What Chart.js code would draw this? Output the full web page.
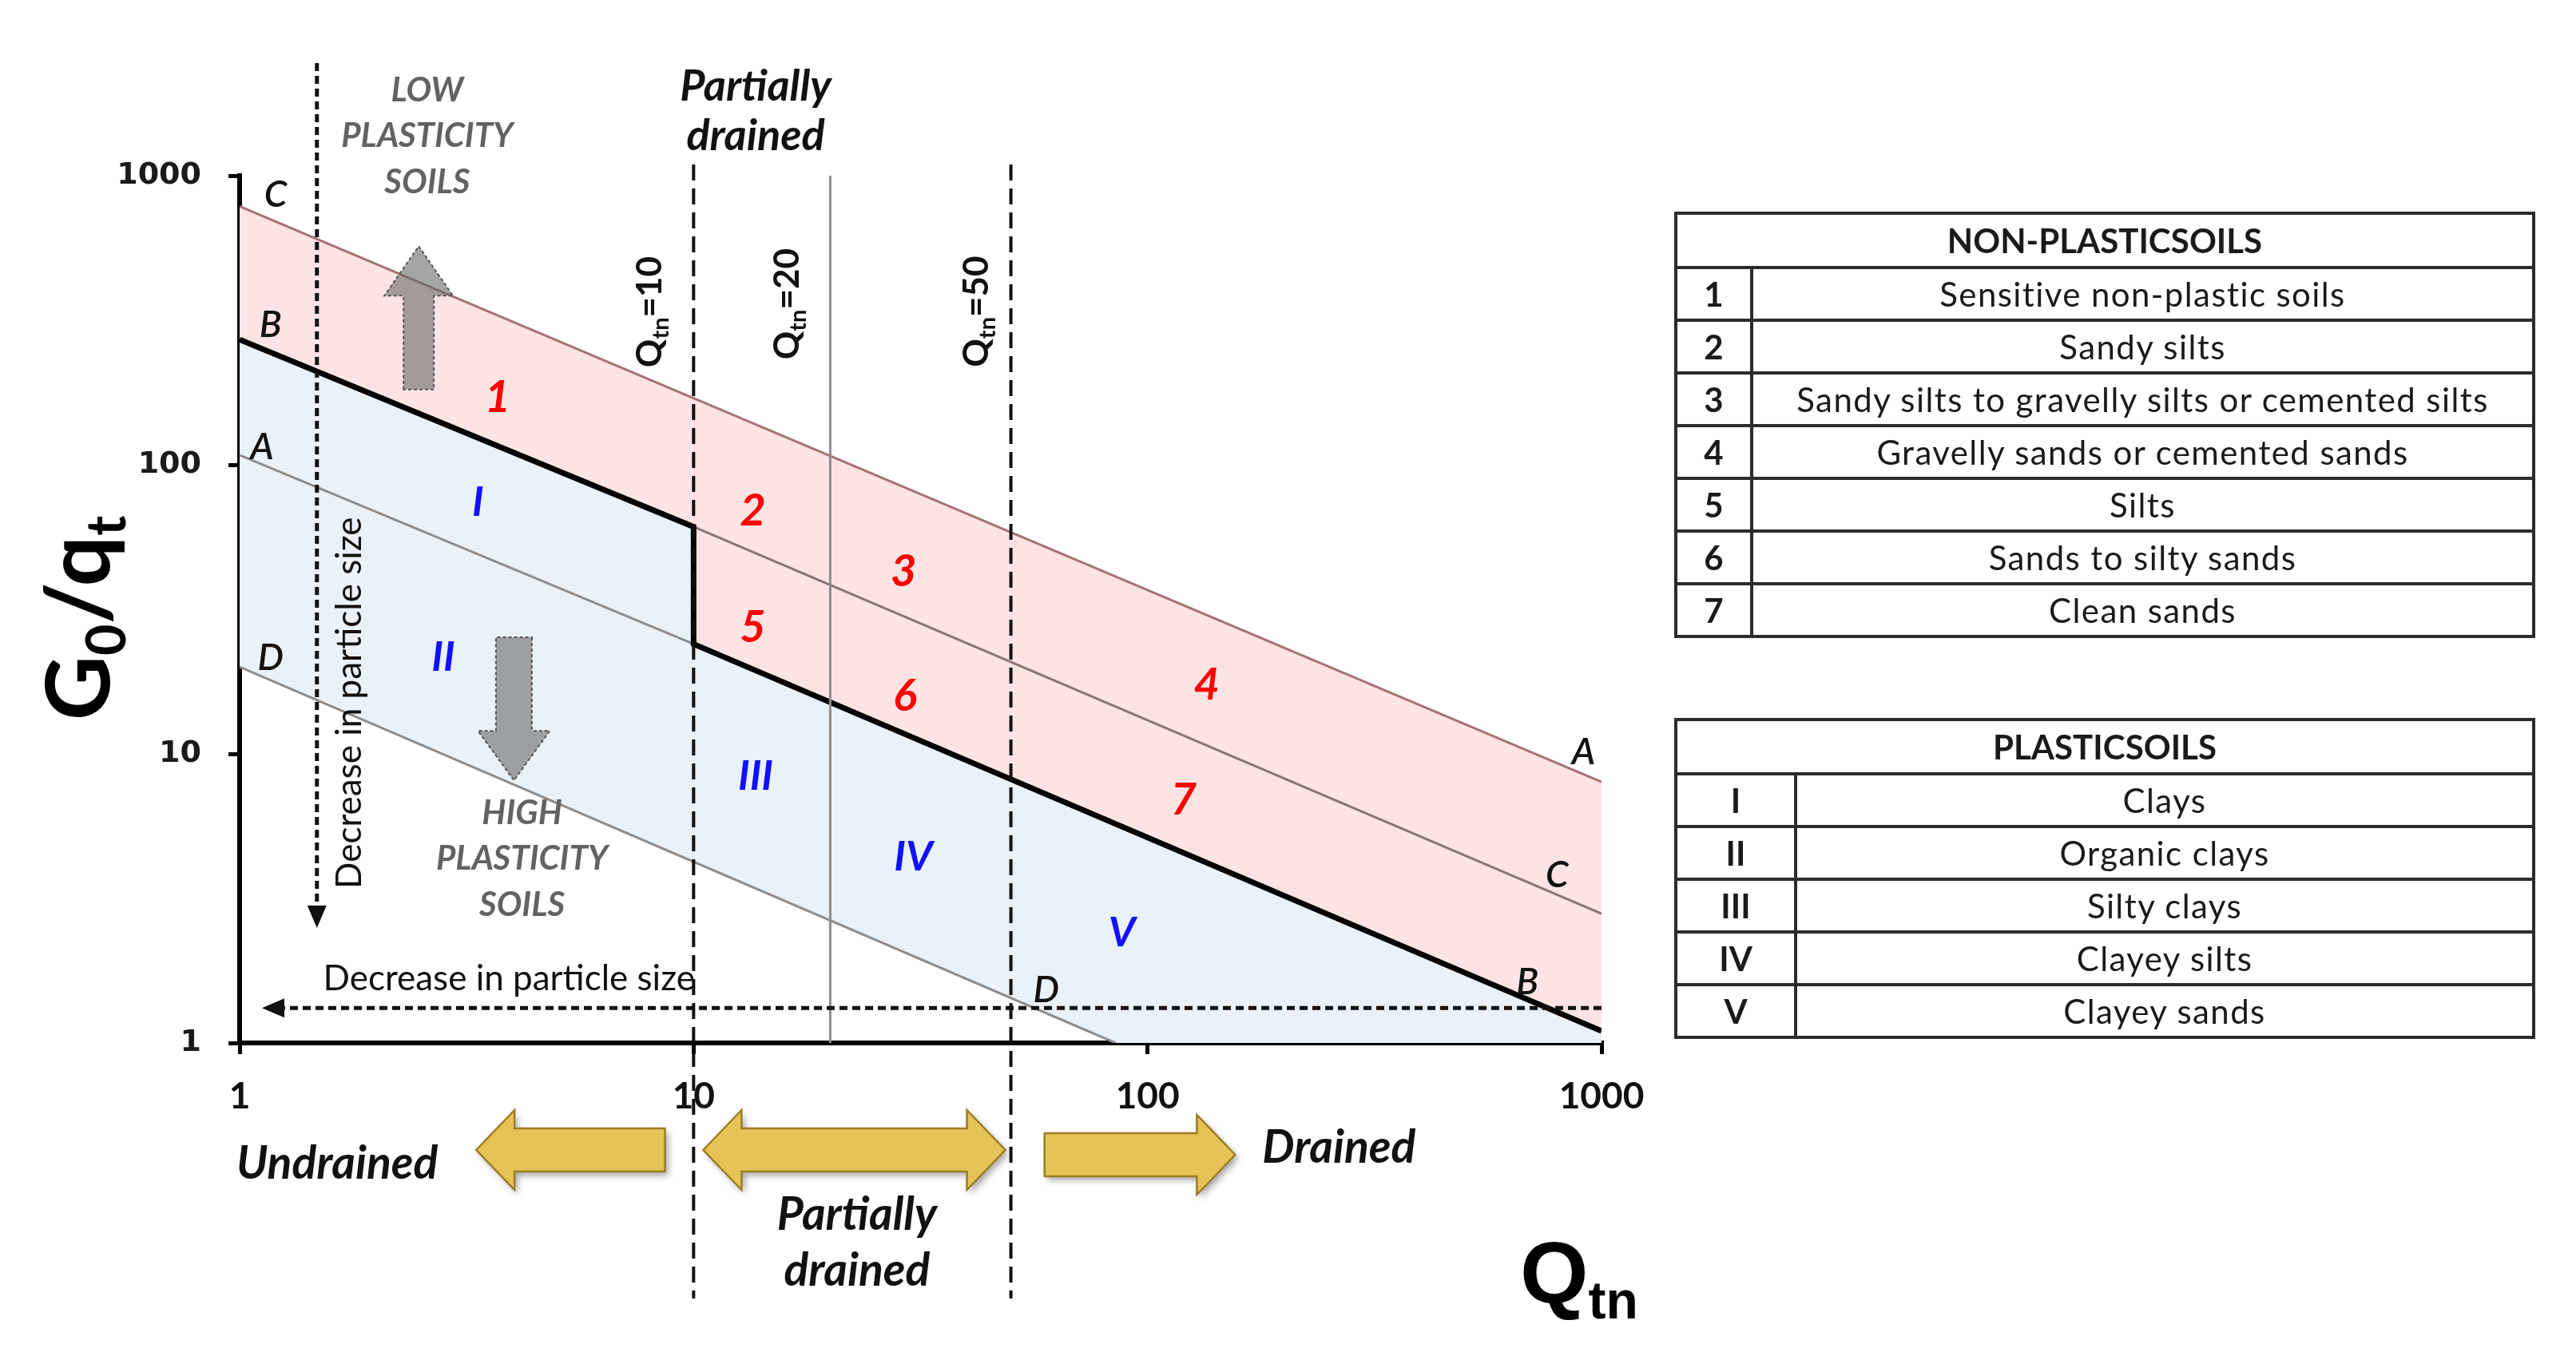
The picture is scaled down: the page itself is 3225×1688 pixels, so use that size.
<!DOCTYPE html>
<html>
<head>
<meta charset="utf-8">
<title>G0/qt vs Qtn</title>
<script src="https://cdn.jsdelivr.net/npm/chart.js@4.4.1/dist/chart.umd.min.js"></script>
<style>
  body { margin: 0; background: #fff; width: 3225px; height: 1688px; overflow: hidden; position: relative; }
  #chart { position: absolute; left: 0; top: 0; width: 3225px; height: 1688px; }
  table.soils { position: absolute; left: 2096px; width: 1078px; border-collapse: collapse; table-layout: fixed;
    font-family: Lato, 'Open Sans', sans-serif; font-size: 42px; color: #1a1a1a; }
  table.soils th, table.soils td { border: 4px solid #2b2b2b; text-align: center; padding: 0; }
  table.soils td { letter-spacing: 1.4px; }
  table.soils th { font-weight: bold; word-spacing: -10px; }
  table.soils td.num { font-weight: bold; letter-spacing: 0; }
</style>
</head>
<body>
<canvas id="chart" width="3225" height="1688"></canvas>
<table class="soils" id="nonPlastic" style="top:265px"></table>
<table class="soils" id="plastic" style="top:899px"></table>
<script>
// axes
const qtnTicks = [1, 10, 100, 1000];
const g0Ticks = [1, 10, 100, 1000];

// boundary lines as [Qtn, G0/qt]
const lineCA = [[1, 784], [1000, 8.0]];                      // upper limit (C left, A right)
const thickBoundary = [[1, 271], [10, 61], [10, 24], [1000, 1.1]]; // B line with the step at Qtn = 10
const lineMid = [[10, 61], [1000, 2.8]];                     // C at right
const lineA = [[1, 108], [10, 24]];                          // A at left
const lineD = [[1, 20], [85, 1]];
const qtnLimits = [10, 20, 50];

// zones
const pinkZone = lineCA.concat(thickBoundary.slice().reverse());
const blueZone = thickBoundary.concat([[1000, 1]], lineD.slice().reverse());

// labels inside the plot: [text, Qtn, G0/qt]
const zoneNumbers = [['1', 3.7, 171], ['2', 13.5, 69.3], ['3', 29, 42.7], ['4', 135, 17.3],
                     ['5', 13.5, 27.4], ['6', 29.2, 15.8], ['7', 120, 6.93]];
const zoneRomans = [['I', 3.35, 74], ['II', 2.81, 21.6], ['III', 13.7, 8.33], ['IV', 30.5, 4.39], ['V', 87.8, 2.4]];
const lineLetters = [['C', 1.2, 855], ['B', 1.17, 304], ['A', 1.12, 115], ['D', 1.17, 21.4],
                     ['A', 913, 10.1], ['C', 798, 3.8], ['B', 687, 1.62], ['D', 59.8, 1.52]];

// tables
const nonPlasticIds = ['1', '2', '3', '4', '5', '6', '7'];
const nonPlasticNames = ['Sensitive non-plastic soils', 'Sandy silts', 'Sandy silts to gravelly silts or cemented silts',
  'Gravelly sands or cemented sands', 'Silts', 'Sands to silty sands', 'Clean sands'];
const plasticIds = ['I', 'II', 'III', 'IV', 'V'];
const plasticNames = ['Clays', 'Organic clays', 'Silty clays', 'Clayey silts', 'Clayey sands'];

function buildTable(id, title, ids, names, firstCol) {
  const t = document.getElementById(id);
  let html = '<colgroup><col style="width:' + firstCol + 'px"><col></colgroup>';
  html += '<tr style="height:68px"><th colspan="2">' + title + '</th></tr>';
  for (let i = 0; i < ids.length; i++) {
    html += '<tr style="height:66px"><td class="num">' + ids[i] + '</td><td>' + names[i] + '</td></tr>';
  }
  t.innerHTML = html;
}
buildTable('nonPlastic', 'NON-PLASTIC SOILS', nonPlasticIds, nonPlasticNames, 95);
buildTable('plastic', 'PLASTIC SOILS', plasticIds, plasticNames, 150);

const pts = arr => arr.map(p => ({ x: p[0], y: p[1] }));

function richText(ctx, parts, x, y, align) {
  let w = 0;
  parts.forEach(p => { ctx.font = p[1]; p.w = ctx.measureText(p[0]).width; w += p.w; });
  let cx = align === 'center' ? x - w / 2 : (align === 'right' ? x - w : x);
  ctx.textAlign = 'left';
  ctx.textBaseline = 'alphabetic';
  parts.forEach(p => { ctx.font = p[1]; ctx.fillText(p[0], cx, y + (p[2] || 0)); cx += p.w; });
}

function dashedArrow(ctx, x0, y0, x1, y1) {
  const ang = Math.atan2(y1 - y0, x1 - x0), hl = 28, hw = 12;
  const ex = x1 - Math.cos(ang) * hl, ey = y1 - Math.sin(ang) * hl;
  ctx.save();
  ctx.strokeStyle = '#111'; ctx.lineWidth = 5; ctx.setLineDash([10, 6]);
  ctx.beginPath(); ctx.moveTo(x0, y0); ctx.lineTo(ex, ey); ctx.stroke();
  ctx.setLineDash([]);
  ctx.fillStyle = '#111';
  ctx.beginPath(); ctx.moveTo(x1, y1);
  ctx.lineTo(ex - Math.sin(ang) * hw, ey + Math.cos(ang) * hw);
  ctx.lineTo(ex + Math.sin(ang) * hw, ey - Math.cos(ang) * hw);
  ctx.closePath(); ctx.fill();
  ctx.restore();
}

function blockArrow(ctx, x0, y0, x1, y1, o) {
  const L = Math.hypot(x1 - x0, y1 - y0), s = o.shaft / 2, h = o.head / 2, hl = o.headLen;
  ctx.save();
  ctx.translate(x0, y0);
  ctx.rotate(Math.atan2(y1 - y0, x1 - x0));
  ctx.beginPath();
  if (o.double) { ctx.moveTo(0, 0); ctx.lineTo(hl, -h); ctx.lineTo(hl, -s); } else { ctx.moveTo(0, -s); }
  ctx.lineTo(L - hl, -s); ctx.lineTo(L - hl, -h); ctx.lineTo(L, 0); ctx.lineTo(L - hl, h); ctx.lineTo(L - hl, s);
  if (o.double) { ctx.lineTo(hl, s); ctx.lineTo(hl, h); } else { ctx.lineTo(0, s); }
  ctx.closePath();
  if (o.shadow) {
    ctx.shadowColor = 'rgba(0,0,0,0.35)'; ctx.shadowBlur = 8; ctx.shadowOffsetX = 4; ctx.shadowOffsetY = 5;
  }
  ctx.fillStyle = o.fill; ctx.fill();
  ctx.shadowColor = 'transparent';
  if (o.dash) ctx.setLineDash(o.dash);
  ctx.strokeStyle = o.stroke; ctx.lineWidth = o.lw; ctx.stroke();
  ctx.restore();
}

const annotate = {
  id: 'annotate',
  afterDraw(chart) {
    const ctx = chart.ctx;
    const X = v => chart.scales.x.getPixelForValue(v);
    const Y = v => chart.scales.y.getPixelForValue(v);
    const area = chart.chartArea;
    ctx.save();

    // Qtn limit lines (10 and 50 dashed, run below the axis)
    qtnLimits.forEach(q => {
      ctx.save();
      ctx.beginPath();
      if (q === 20) {
        ctx.strokeStyle = '#8d8d8d'; ctx.lineWidth = 3;
        ctx.moveTo(X(q), Y(1000)); ctx.lineTo(X(q), area.bottom);
      } else {
        ctx.strokeStyle = '#111'; ctx.lineWidth = 4; ctx.setLineDash([20, 10]);
        ctx.moveTo(X(q), Y(1000) - 14); ctx.lineTo(X(q), area.bottom + 320);
      }
      ctx.stroke();
      ctx.restore();
    });

    // particle size arrows
    dashedArrow(ctx, X(1.48), Y(2450), X(1.48), Y(2.5));
    dashedArrow(ctx, X(1000), Y(1.32), X(1.12), Y(1.32));

    // plasticity arrows
    blockArrow(ctx, X(2.48), Y(182), X(2.48), Y(570),
      { shaft: 38, head: 86, headLen: 62, fill: 'rgba(105,105,105,0.6)', stroke: '#555', lw: 2, dash: [4, 3] });
    blockArrow(ctx, X(4.02), Y(25.3), X(4.02), Y(8.1),
      { shaft: 45, head: 90, headLen: 62, fill: 'rgba(105,105,105,0.6)', stroke: '#555', lw: 2, dash: [4, 3] });

    // drainage arrows under the axis
    const gold = { shaft: 54, head: 100, headLen: 48, fill: '#e6c257', stroke: '#9c7d22', lw: 2.5, shadow: true };
    blockArrow(ctx, X(8.65), area.bottom + 134, X(3.32), area.bottom + 134, gold);
    blockArrow(ctx, X(10.5), area.bottom + 134, X(48.6), area.bottom + 134, Object.assign({ double: true }, gold));
    blockArrow(ctx, X(59.3), area.bottom + 140, X(156), area.bottom + 140, gold);

    ctx.fillStyle = '#111';
    ctx.textAlign = 'center'; ctx.textBaseline = 'middle';
    ctx.font = 'italic bold 57px Lato';
    ctx.fillText('Undrained', X(1.64), area.bottom + 152);
    ctx.fillText('Drained', X(264), area.bottom + 132);
    ctx.fillText('Partially', X(22.9), area.bottom + 216);
    ctx.fillText('drained', X(22.9), area.bottom + 286);
    ctx.font = 'italic bold 54px Lato';
    ctx.fillText('Partially', X(13.7), Y(2027));
    ctx.fillText('drained', X(13.7), Y(1368));

    // plasticity captions
    ctx.fillStyle = '#626262';
    ctx.font = 'italic bold 42px Lato';
    ['LOW', 'PLASTICITY', 'SOILS'].forEach((t, i) => ctx.fillText(t, X(2.59), Y([1974, 1368, 949][i])));
    ['HIGH', 'PLASTICITY', 'SOILS'].forEach((t, i) => ctx.fillText(t, X(4.19), Y([6.24, 4.33, 3.0][i])));

    // zone labels
    ctx.fillStyle = '#ff0000';
    ctx.font = 'italic bold 56px Lato';
    zoneNumbers.forEach(z => ctx.fillText(z[0], X(z[1]), Y(z[2])));
    ctx.fillStyle = '#1010ff';
    ctx.font = 'italic bold 52px Lato';
    zoneRomans.forEach(z => ctx.fillText(z[0], X(z[1]), Y(z[2])));
    ctx.fillStyle = '#111';
    ctx.font = 'italic 600 46px Lato';
    lineLetters.forEach(z => ctx.fillText(z[0], X(z[1]), Y(z[2])));

    // horizontal particle size text
    ctx.font = '44px Lato';
    ctx.fillText('Decrease in particle size', X(3.92), Y(1.67));

    // rotated texts
    const rotated = (cx, cy, fn) => { ctx.save(); ctx.translate(cx, cy); ctx.rotate(-Math.PI / 2); fn(); ctx.restore(); };
    rotated(X(1.75), Y(15), () => {
      ctx.textAlign = 'center'; ctx.textBaseline = 'middle'; ctx.font = '44px Lato';
      ctx.fillText('Decrease in particle size', 0, 0);
    });
    [[10, 7.96, 338], [20, 16.0, 360], [50, 41.7, 339]].forEach(q => {
      rotated(X(q[1]), Y(q[2]), () => {
        richText(ctx, [['Q', 'bold 44px Lato', 0], ['tn', 'bold 29px Lato', 9], ['=' + q[0], 'bold 44px Lato', 0]], 0, 16, 'center');
      });
    });

    // axis titles
    ctx.fillStyle = '#000';
    rotated(area.left - 163, 774, () => {
      richText(ctx, [['G', 'bold 112px Lato', 0], ['0', 'bold 68px Lato', 20],
        ['/q', 'bold 112px Lato', 0], ['t', 'bold 68px Lato', 20]], 0, 0, 'center');
    });
    richText(ctx, [['Q', 'bold 110px "Liberation Sans"', 0], ['tn', 'bold 66px "Liberation Sans"', 20]],
      X(1000) - 102, area.bottom + 325, 'left');

    ctx.restore();
  }
};

new Chart(document.getElementById('chart'), {
  type: 'line',
  data: {
    datasets: [
      { data: pts(pinkZone), fill: 'shape', backgroundColor: '#fde4e4', borderColor: 'rgba(0,0,0,0)', borderWidth: 0, order: 10 },
      { data: pts(blueZone), fill: 'shape', backgroundColor: '#e9f1f9', borderColor: 'rgba(0,0,0,0)', borderWidth: 0, order: 9 },
      { data: pts(lineCA), borderColor: '#a57272', borderWidth: 3, fill: false, order: 5 },
      { data: pts(lineMid), borderColor: '#8a7474', borderWidth: 3, fill: false, order: 5 },
      { data: pts(lineA), borderColor: '#8d8d8d', borderWidth: 3, fill: false, order: 5 },
      { data: pts(lineD), borderColor: '#8d8d8d', borderWidth: 3, fill: false, order: 5 },
      { data: pts(thickBoundary), borderColor: '#000', borderWidth: 7, fill: false, order: 1 }
    ]
  },
  options: {
    responsive: false,
    animation: false,
    devicePixelRatio: 1,
    elements: { point: { radius: 0 }, line: { tension: 0, borderJoinStyle: 'miter' } },
    layout: { padding: { left: 0, right: 1220, top: 220, bottom: 0 } },
    plugins: { legend: { display: false }, tooltip: { enabled: false } },
    scales: {
      x: {
        type: 'logarithmic', min: 1, max: 1000, z: 1,
        afterBuildTicks: s => { s.ticks = qtnTicks.map(v => ({ value: v })); },
        afterFit: s => { s.height = 382; },
        ticks: { callback: v => String(v), font: { family: 'Lato', size: 46, weight: 'bold' }, color: '#111',
                 padding: 26, maxRotation: 0, autoSkip: false },
        grid: { drawOnChartArea: false, tickLength: 14, color: '#000', lineWidth: 5 },
        border: { display: true, color: '#000', width: 6 }
      },
      y: {
        type: 'logarithmic', min: 1, max: 1000, z: 1,
        afterBuildTicks: s => { s.ticks = g0Ticks.map(v => ({ value: v })); },
        afterFit: s => { s.width = 300; },
        ticks: { callback: v => String(v), font: { family: 'DejaVu Sans', size: 38, weight: 'bold' }, color: '#1a1a1a',
                 padding: 34, autoSkip: false },
        grid: { drawOnChartArea: false, tickLength: 14, color: '#000', lineWidth: 5 },
        border: { display: true, color: '#000', width: 6 }
      }
    }
  },
  plugins: [annotate]
});
</script>
</body>
</html>
